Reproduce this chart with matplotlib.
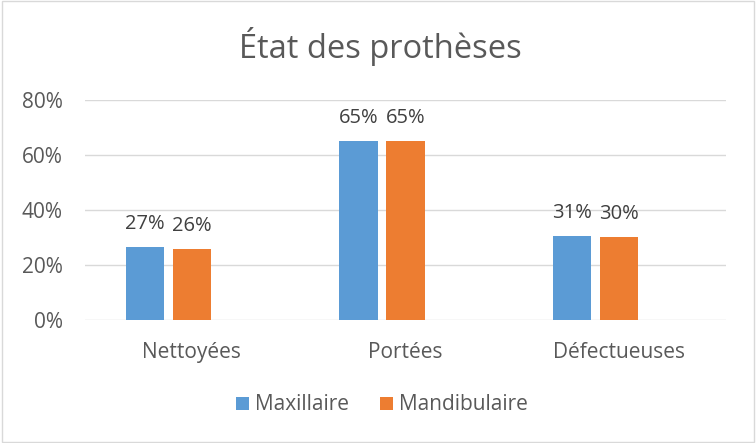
import matplotlib
matplotlib.use("Agg")
import matplotlib.pyplot as plt
import numpy as np
from matplotlib.patches import Rectangle

categories = ["Nettoyées", "Portées", "Défectueuses"]
maxillaire = [26.6, 65.2, 30.6]
mandibulaire = [25.9, 65.1, 30.2]
series_names = ["Maxillaire", "Mandibulaire"]
yticks = [0, 20, 40, 60, 80]

blue = "#5b9bd5"
orange = "#ed7d31"
txt = "#595959"
font = "Open Sans"

fig = plt.figure(figsize=(7.56, 4.43), dpi=100)
ax = fig.add_axes([85/756, (443-320)/443, (726-85)/756, 220/443])

x = np.arange(len(categories))
w = 0.178
step = 0.22
b1 = ax.bar(x - step, maxillaire, w, color=blue, label=series_names[0], zorder=3)
b2 = ax.bar(x, mandibulaire, w, color=orange, label=series_names[1], zorder=3)

for bars, vals in ((b1, maxillaire), (b2, mandibulaire)):
    for r, v in zip(bars, vals):
        ax.text(r.get_x() + r.get_width()/2, v + 4.6, f"{v:.0f}%", ha="center", va="bottom",
                fontsize=14.5, color="#404040", family=font)

ax.set_xlim(-0.5, 2.5)
ax.set_ylim(0, 80)
ax.set_yticks(yticks)
ax.set_yticklabels([f"{t}%" for t in yticks], fontsize=15, color=txt, family=font)
ax.set_xticks(x)
ax.set_xticklabels(categories, fontsize=15, color=txt, family=font)
ax.tick_params(axis="both", length=0)
ax.tick_params(axis="y", pad=16)
ax.tick_params(axis="x", pad=16)
ax.grid(axis="y", color="#d9d9d9", linewidth=1, zorder=0)
for s in ax.spines.values():
    s.set_visible(False)

fig.text(380/756, 1 - 46/443, "État des prothèses", ha="center", va="center",
         fontsize=23.5, color=txt, family=font)

leg = fig.legend(handles=[b1, b2], labels=series_names, loc="center",
                 bbox_to_anchor=(382/756, 1 - 405/443), ncol=2, frameon=False,
                 prop={"family": font, "size": 15}, handlelength=0.6, handleheight=0.6,
                 handletextpad=0.3, columnspacing=1.5, labelcolor=txt)

fig.patches.append(Rectangle((0.002, 0.003), 0.996, 0.994, transform=fig.transFigure,
                             fill=False, edgecolor="#d9d9d9", linewidth=1))

fig.savefig("out.png", dpi=100, facecolor="white")
